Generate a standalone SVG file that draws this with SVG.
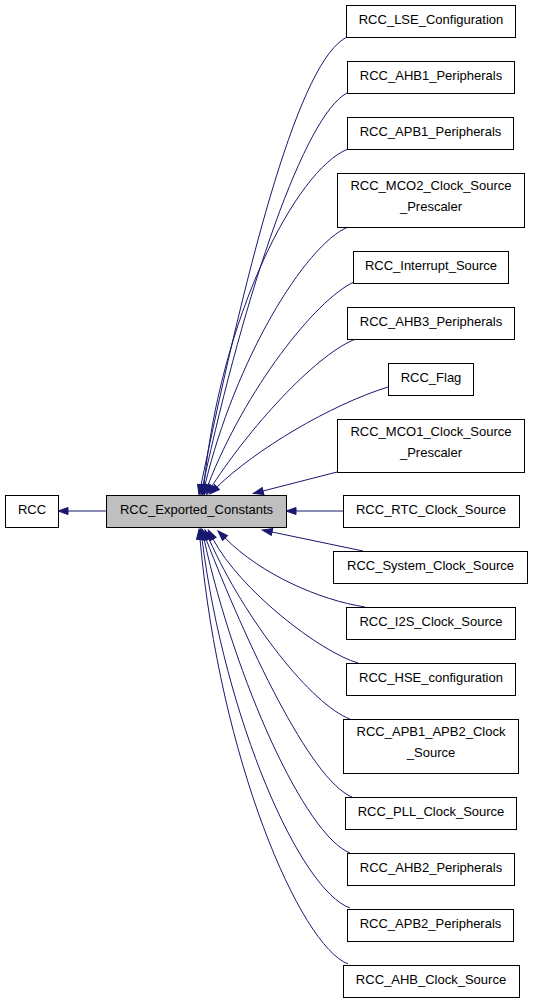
<svg xmlns="http://www.w3.org/2000/svg" width="533" height="1003" viewBox="0 0 533 1003">
<style>
.n rect{fill:#ffffff;stroke:#000000;stroke-width:1}
.cur rect{fill:#bfbfbf;stroke:#000000;stroke-width:1}
text{font-family:"Liberation Sans",Arial,sans-serif;font-size:13px;text-anchor:middle;fill:#000000}
.e path{fill:none;stroke:#191970;stroke-width:1;marker-end:url(#ah)}
</style>
<defs>
<marker id="ah" markerUnits="userSpaceOnUse" markerWidth="12" markerHeight="9" refX="0" refY="0" viewBox="-1 -4.5 12 9" orient="auto" overflow="visible">
<path d="M0,-3.5 L10,0 L0,3.5 Z" fill="#191970" stroke="#191970" stroke-width="1"/>
</marker>
</defs>
<rect width="533" height="1003" fill="#ffffff"/>
<g class="e" id="edges">
<path d="M106,511 L68,511"/>
<path d="M347,37 C300,60 250,250 201,485"/>
<path d="M347,93 C305,115 245,290 203,485"/>
<path d="M348,149 C295,170 220,320 204,485"/>
<path d="M348,227 C305,245 235,360 205,485"/>
<path d="M354,282 C315,300 245,390 208,485"/>
<path d="M356,339 C320,352 255,420 212,486"/>
<path d="M388,387 C330,405 255,450 217,487"/>
<path d="M337,472 L263,491"/>
<path d="M343,511 L296,511"/>
<path d="M363,551 L272,532"/>
<path d="M365,607 C320,600 262,575 225,538"/>
<path d="M358,663 C320,652 240,590 213,539"/>
<path d="M350,719 C312,705 245,620 209,539"/>
<path d="M352,797 C310,780 245,640 206,539"/>
<path d="M350,853 C305,835 235,680 204,539"/>
<path d="M350,908 C300,890 225,720 202,539"/>
<path d="M348,964 C300,945 220,760 200,539"/>
</g>
<g id="RCC" class="n"><rect x="5.5" y="495.5" width="53" height="32"/><text x="32" y="514">RCC</text></g>
<g id="RCC_Exported_Constants" class="cur"><rect x="106.5" y="495.5" width="180" height="32"/><text x="196.5" y="514">RCC_Exported_Constants</text></g>
<g id="RCC_LSE_Configuration" class="n"><rect x="346.5" y="5.5" width="169" height="32"/><text x="431" y="24">RCC_LSE_Configuration</text></g>
<g id="RCC_AHB1_Peripherals" class="n"><rect x="347.5" y="61.5" width="167" height="32"/><text x="431" y="80">RCC_AHB1_Peripherals</text></g>
<g id="RCC_APB1_Peripherals" class="n"><rect x="347.5" y="117.5" width="166" height="32"/><text x="430.5" y="136">RCC_APB1_Peripherals</text></g>
<g id="RCC_MCO2_Clock_Source_Prescaler" class="n"><rect x="337.5" y="173.5" width="187" height="54"/><text x="431" y="190">RCC_MCO2_Clock_Source</text><text x="431" y="211">_Prescaler</text></g>
<g id="RCC_Interrupt_Source" class="n"><rect x="353.5" y="251.5" width="155" height="32"/><text x="431" y="270">RCC_Interrupt_Source</text></g>
<g id="RCC_AHB3_Peripherals" class="n"><rect x="347.5" y="307.5" width="167" height="32"/><text x="431" y="326">RCC_AHB3_Peripherals</text></g>
<g id="RCC_Flag" class="n"><rect x="388.5" y="363.5" width="85" height="32"/><text x="431" y="382">RCC_Flag</text></g>
<g id="RCC_MCO1_Clock_Source_Prescaler" class="n"><rect x="337.5" y="419.5" width="187" height="53"/><text x="431" y="436">RCC_MCO1_Clock_Source</text><text x="431" y="457">_Prescaler</text></g>
<g id="RCC_RTC_Clock_Source" class="n"><rect x="343.5" y="495.5" width="176" height="32"/><text x="431" y="514">RCC_RTC_Clock_Source</text></g>
<g id="RCC_System_Clock_Source" class="n"><rect x="333.5" y="551.5" width="194" height="32"/><text x="430.5" y="570">RCC_System_Clock_Source</text></g>
<g id="RCC_I2S_Clock_Source" class="n"><rect x="346.5" y="607.5" width="169" height="32"/><text x="431" y="626">RCC_I2S_Clock_Source</text></g>
<g id="RCC_HSE_configuration" class="n"><rect x="346.5" y="663.5" width="169" height="32"/><text x="431" y="682">RCC_HSE_configuration</text></g>
<g id="RCC_APB1_APB2_Clock_Source" class="n"><rect x="343.5" y="719.5" width="175" height="54"/><text x="431" y="736">RCC_APB1_APB2_Clock</text><text x="431" y="757">_Source</text></g>
<g id="RCC_PLL_Clock_Source" class="n"><rect x="345.5" y="797.5" width="171" height="32"/><text x="431" y="816">RCC_PLL_Clock_Source</text></g>
<g id="RCC_AHB2_Peripherals" class="n"><rect x="347.5" y="853.5" width="167" height="32"/><text x="431" y="872">RCC_AHB2_Peripherals</text></g>
<g id="RCC_APB2_Peripherals" class="n"><rect x="347.5" y="909.5" width="166" height="32"/><text x="430.5" y="928">RCC_APB2_Peripherals</text></g>
<g id="RCC_AHB_Clock_Source" class="n"><rect x="343.5" y="965.5" width="176" height="32"/><text x="431" y="984">RCC_AHB_Clock_Source</text></g>
</svg>
